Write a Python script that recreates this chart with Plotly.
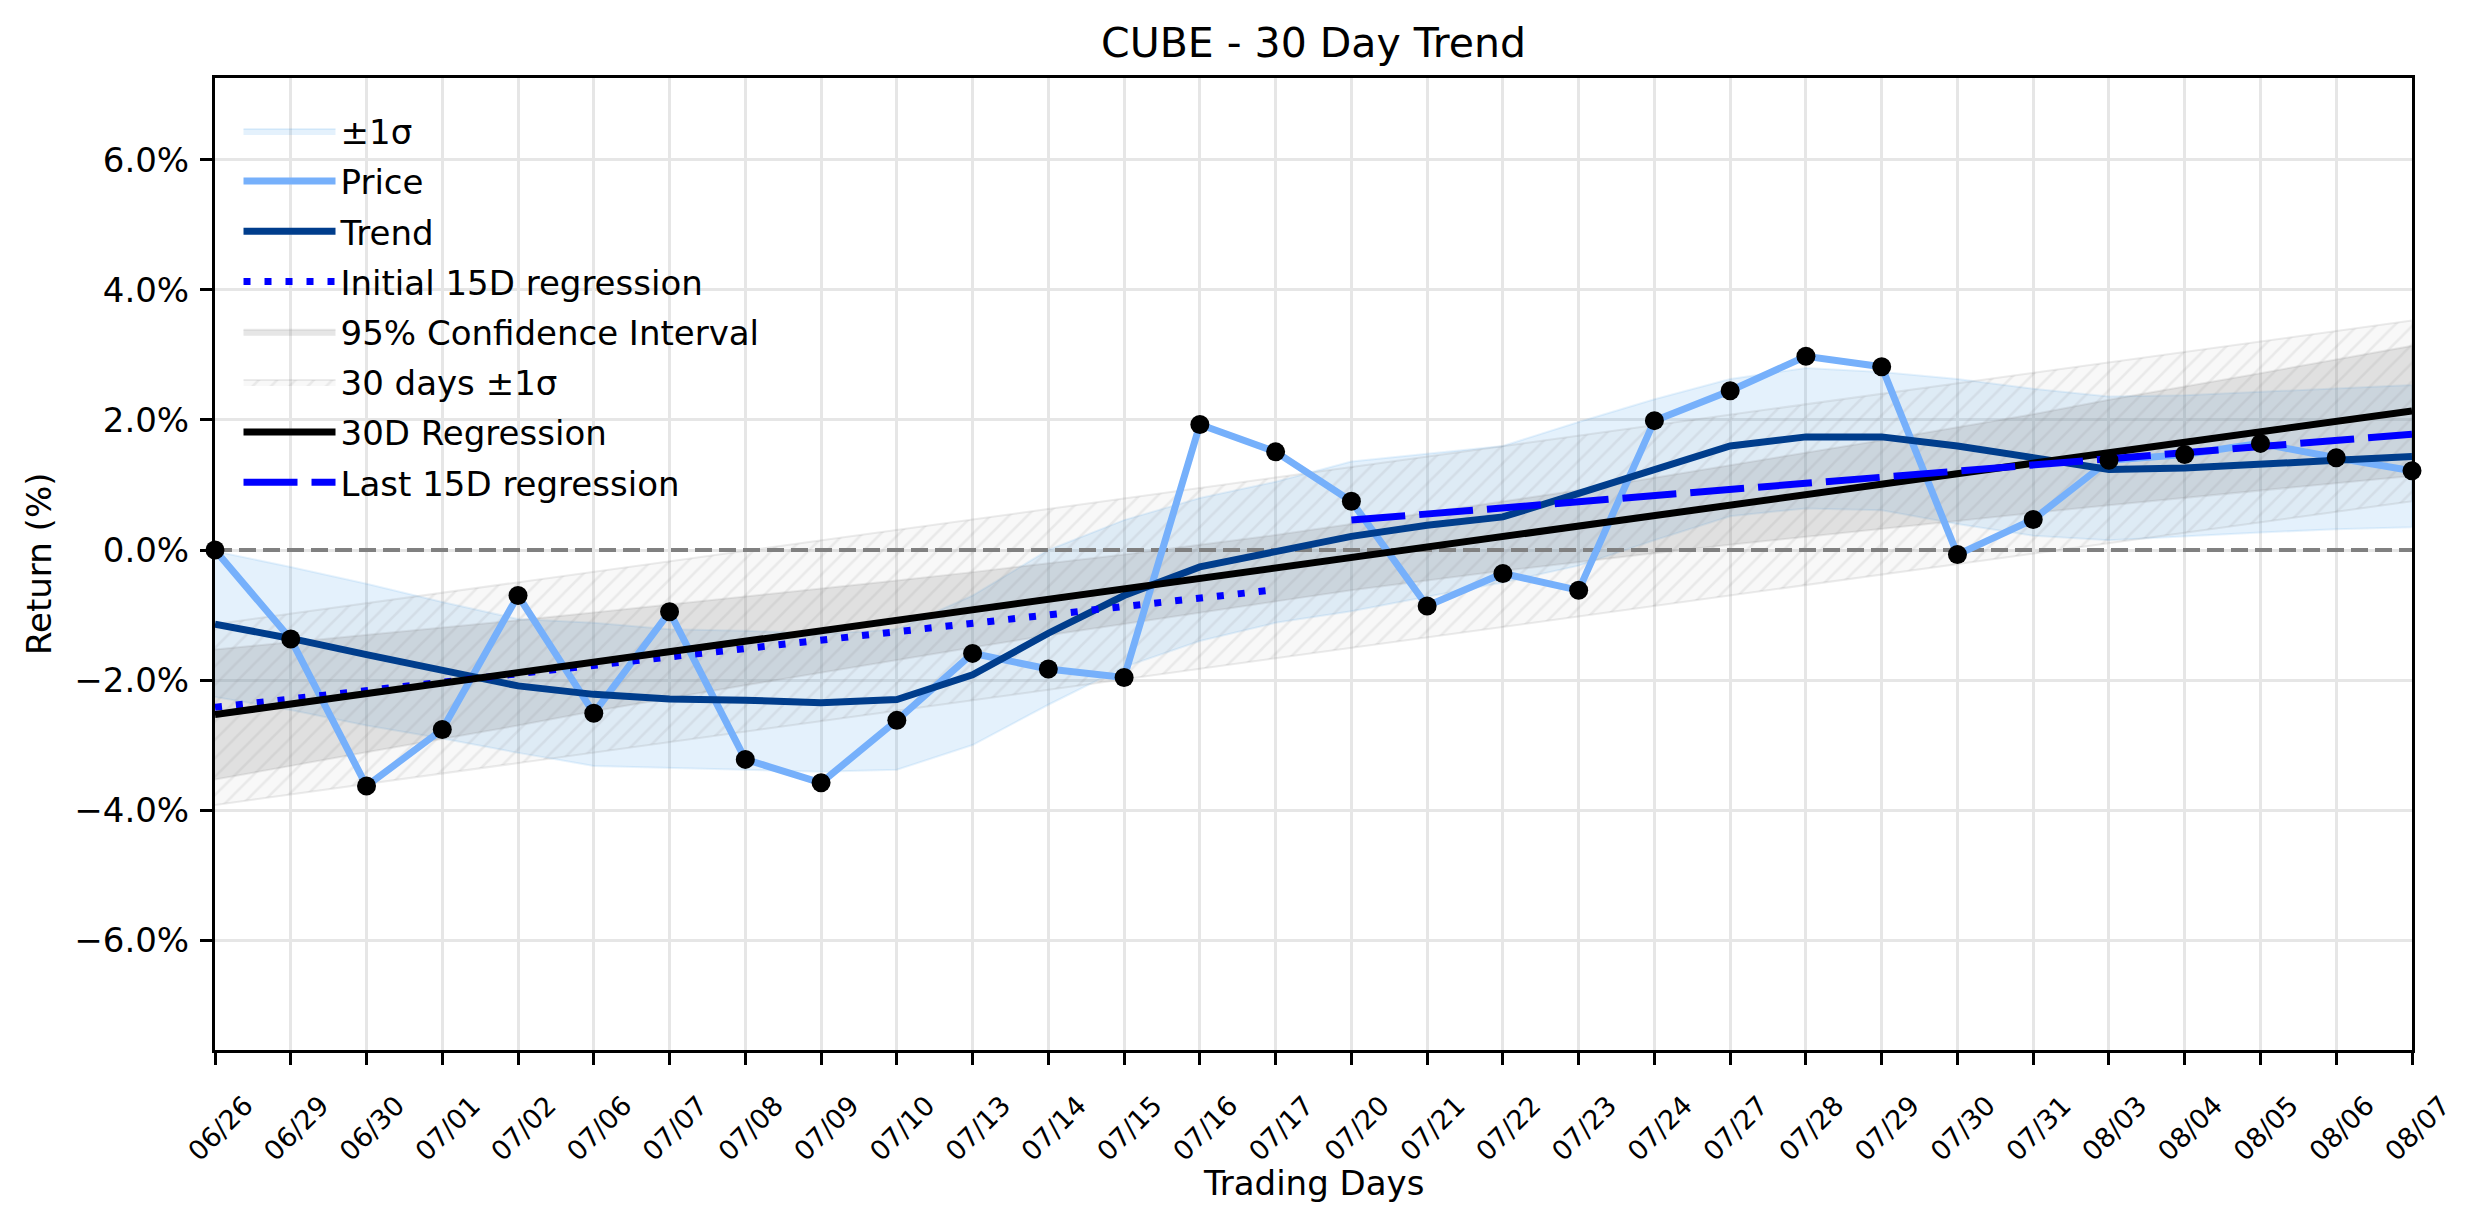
import plotly.graph_objects as go

# trading days shown on the x axis
dates = ['06/26', '06/29', '06/30', '07/01', '07/02', '07/06', '07/07', '07/08', '07/09', '07/10',
         '07/13', '07/14', '07/15', '07/16', '07/17', '07/20', '07/21', '07/22', '07/23', '07/24',
         '07/27', '07/28', '07/29', '07/30', '07/31', '08/03', '08/04', '08/05', '08/06', '08/07']

# cumulative return (%)
price = [0.00, -1.37, -3.63, -2.76, -0.70, -2.51, -0.95, -3.22, -3.58, -2.62,
         -1.59, -1.83, -1.96, 1.93, 1.51, 0.75, -0.86, -0.36, -0.62, 1.99,
         2.45, 2.98, 2.82, -0.07, 0.47, 1.38, 1.47, 1.64, 1.42, 1.22]

trend = [-1.14, -1.36, -1.61, -1.85, -2.09, -2.22, -2.29, -2.31, -2.35, -2.30,
         -1.92, -1.28, -0.70, -0.26, -0.03, 0.21, 0.38, 0.51, 0.87, 1.24,
         1.60, 1.74, 1.74, 1.60, 1.42, 1.24, 1.26, 1.31, 1.38, 1.44]

sigma_upper = [-0.02, -0.26, -0.52, -0.80, -1.06, -1.12, -1.22, -1.24, -1.29, -1.22,
               -0.70, 0.00, 0.46, 0.80, 1.05, 1.36, 1.48, 1.60, 1.97, 2.32,
               2.63, 2.80, 2.74, 2.63, 2.48, 2.36, 2.38, 2.43, 2.48, 2.54]
sigma_lower = [-2.26, -2.46, -2.70, -2.90, -3.12, -3.32, -3.36, -3.38, -3.41, -3.38,
               -3.00, -2.38, -1.80, -1.40, -1.12, -0.94, -0.72, -0.50, -0.24, 0.15,
               0.52, 0.64, 0.61, 0.40, 0.22, 0.15, 0.21, 0.27, 0.32, 0.35]

ci_upper = [-1.53, -1.42, -1.31, -1.20, -1.08, -0.96, -0.84, -0.72, -0.60, -0.47,
            -0.34, -0.21, -0.07, 0.08, 0.23, 0.40, 0.57, 0.74, 0.92, 1.11,
            1.30, 1.49, 1.69, 1.89, 2.09, 2.31, 2.51, 2.72, 2.93, 3.14]
ci_lower = [-3.53, -3.32, -3.11, -2.90, -2.70, -2.48, -2.28, -2.08, -1.88, -1.69,
            -1.50, -1.31, -1.13, -0.96, -0.79, -0.62, -0.47, -0.32, -0.18, -0.05,
            0.08, 0.21, 0.33, 0.45, 0.57, 0.69, 0.81, 0.92, 1.03, 1.14]

# straight lines: values at first and last day of each span
reg30 = [-2.53, 2.14]
band30_upper = [-1.14, 3.53]
band30_lower = [-3.92, 0.75]
init15 = [-2.42, -0.61]
last15 = [0.46, 1.78]

yticks = [-6, -4, -2, 0, 2, 4, 6]
ytick_text = ['\u22126.0%', '\u22124.0%', '\u22122.0%', '0.0%', '2.0%', '4.0%', '6.0%']

FONT = 'DejaVu Sans'
x = list(range(len(dates)))
x_all = [x[0], x[-1]]
x_first = [x[0], x[14]]
x_last = [x[15], x[-1]]


def band(xs, upper, lower):
    return list(xs) + list(xs)[::-1], list(upper) + list(lower)[::-1]


fig = go.Figure()

bx, by = band(x, sigma_upper, sigma_lower)
fig.add_trace(go.Scatter(x=bx, y=by, fill='toself', mode='lines',
                         fillcolor='rgba(30,136,229,0.12)',
                         line=dict(color='rgba(30,136,229,0.10)', width=2),
                         name='±1σ', legendrank=1, legendgroup='g1'))

bx, by = band(x, ci_upper, ci_lower)
fig.add_trace(go.Scatter(x=bx, y=by, fill='toself', mode='lines',
                         fillcolor='rgba(128,128,128,0.2)',
                         line=dict(color='rgba(128,128,128,0.15)', width=2),
                         name='95% Confidence Interval', legendrank=5, legendgroup='g5'))

bx, by = band(x_all, band30_upper, band30_lower)
fig.add_trace(go.Scatter(x=bx, y=by, fill='toself', mode='lines',
                         fillpattern=dict(shape='/', fgcolor='rgba(128,128,128,0.25)',
                                          bgcolor='rgba(128,128,128,0.05)', size=13, solidity=0.2),
                         line=dict(color='rgba(128,128,128,0.15)', width=2),
                         name='30 days ±1σ', legendrank=6, legendgroup='g6'))

fig.add_trace(go.Scatter(x=x_all, y=[0, 0], mode='lines', showlegend=False,
                         line=dict(color='#808080', width=4, dash='17px,7px')))

fig.add_trace(go.Scatter(x=x, y=price, mode='lines', name='Price', legendrank=2, legendgroup='g2',
                         line=dict(color='#76b0fb', width=7)))
fig.add_trace(go.Scatter(x=x, y=trend, mode='lines', name='Trend', legendrank=3, legendgroup='g3',
                         line=dict(color='#003d8c', width=7)))
fig.add_trace(go.Scatter(x=x_first, y=init15, mode='lines', name='Initial 15D regression',
                         legendrank=4, legendgroup='g4',
                         line=dict(color='blue', width=7, dash='7px,14px')))
fig.add_trace(go.Scatter(x=x_all, y=reg30, mode='lines', name='30D Regression',
                         legendrank=7, legendgroup='g7',
                         line=dict(color='black', width=7)))
fig.add_trace(go.Scatter(x=x_last, y=last15, mode='lines', name='Last 15D regression',
                         legendrank=8, legendgroup='g8',
                         line=dict(color='blue', width=7, dash='54px,14px')))

fig.add_trace(go.Scatter(x=x, y=price, mode='markers', showlegend=False,
                         marker=dict(color='black', size=19), cliponaxis=False))

axis_style = dict(showline=True, linecolor='black', linewidth=3, mirror=True,
                  ticks='outside', ticklen=12, tickwidth=3, tickcolor='black',
                  showgrid=True, gridcolor='#e6e6e6', gridwidth=3, zeroline=False)

fig.update_layout(
    width=2474, height=1224,
    margin=dict(l=215, r=62, t=78, b=174, pad=0),
    plot_bgcolor='white', paper_bgcolor='white',
    font=dict(family=FONT, size=34, color='black'),
    title=dict(text='CUBE - 30 Day Trend', font=dict(size=41), x=0.5, xref='paper',
               xanchor='center', y=1 - 43 / 1224, yref='container', yanchor='middle'),
    xaxis=dict(range=[0, 29], tickvals=x, ticktext=dates, tickangle=-45,
               tickfont=dict(size=27), ticklabelshift=30, ticklabelstandoff=14,
               **axis_style),
    yaxis=dict(range=[-7.69, 7.26], tickvals=yticks, ticktext=ytick_text,
               tickfont=dict(size=34), ticklabelstandoff=4,
               **axis_style),
    legend=dict(x=0.0107, y=0.975, xanchor='left', yanchor='top', bgcolor='rgba(0,0,0,0)',
                font=dict(size=34), itemwidth=92, tracegroupgap=3),
    showlegend=True,
)

# axis titles as annotations so their position is fixed
fig.add_annotation(text='Trading Days', xref='paper', yref='paper', x=0.5, y=-0.1368,
                   xanchor='center', yanchor='middle', showarrow=False, font=dict(size=34))
fig.add_annotation(text='Return (%)', xref='paper', yref='paper', x=-0.0801, y=0.5,
                   xanchor='center', yanchor='middle', textangle=-90, showarrow=False,
                   font=dict(size=34))

# page body margin would shift the figure inside the window
fig.write_html('out.html', config={'displayModeBar': False},
               post_script="document.body.style.margin='0';")
